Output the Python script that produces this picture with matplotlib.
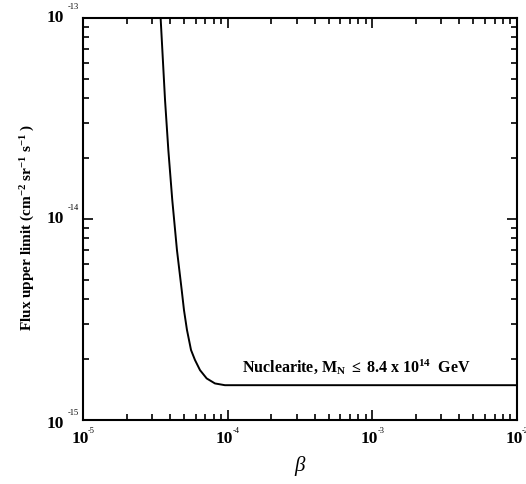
import matplotlib
matplotlib.use("Agg")
import matplotlib.pyplot as plt
from matplotlib import transforms
from matplotlib.ticker import LogLocator, NullFormatter

plt.rcParams['mathtext.fontset'] = 'custom'
plt.rcParams['mathtext.rm'] = 'Liberation Serif:bold'
plt.rcParams['mathtext.bf'] = 'Liberation Serif:bold'
plt.rcParams['mathtext.it'] = 'Liberation Serif:italic'

# data
beta = [3.44e-5, 3.69e-5, 3.89e-5, 4.14e-5, 4.46e-5, 4.81e-5, 4.99e-5, 5.23e-5,
        5.58e-5, 5.94e-5, 6.44e-5, 7.16e-5, 8.17e-5, 9.57e-5, 1.2e-4, 1e-2]
flux = [1e-13, 3.91e-14, 2.20e-14, 1.245e-14, 7.02e-15, 4.44e-15, 3.52e-15, 2.81e-15,
        2.23e-15, 1.99e-15, 1.77e-15, 1.61e-15, 1.52e-15, 1.49e-15, 1.49e-15, 1.49e-15]
xticks = [1e-5, 1e-4, 1e-3, 1e-2]
xexp = ['-5', '-4', '-3', '-2']
yticks = [1e-15, 1e-14, 1e-13]
yexp = ['-15', '-14', '-13']

fig = plt.figure(figsize=(5.26, 4.84), dpi=100)
ax = fig.add_axes([83/526, 64/484, 434/526, 402/484])
ax.set_xscale('log')
ax.set_yscale('log')
ax.set_xlim(1e-5, 1e-2)
ax.set_ylim(1e-15, 1e-13)

ax.plot(beta, flux, color='black', lw=1.4)

for s in ax.spines.values():
    s.set_linewidth(1.5)

ax.xaxis.set_major_locator(LogLocator(base=10, numticks=10))
ax.xaxis.set_minor_locator(LogLocator(base=10, subs=range(2, 10), numticks=30))
ax.yaxis.set_major_locator(LogLocator(base=10, numticks=10))
ax.yaxis.set_minor_locator(LogLocator(base=10, subs=range(2, 10), numticks=30))
ax.xaxis.set_major_formatter(NullFormatter())
ax.xaxis.set_minor_formatter(NullFormatter())
ax.yaxis.set_major_formatter(NullFormatter())
ax.yaxis.set_minor_formatter(NullFormatter())
ax.tick_params(which='both', direction='in', top=True, right=True, width=1.2)
ax.tick_params(which='major', length=7)
ax.tick_params(which='minor', length=4)

serif = 'Liberation Serif'
# x tick labels
bx = transforms.blended_transform_factory(ax.transData, ax.transAxes)
for t, e in zip(xticks, xexp):
    ax.text(t, -0.047, '10', transform=bx + transforms.ScaledTranslation(-3/100, 0, fig.dpi_scale_trans),
            ha='center', va='center', family=serif, weight='bold', fontsize=12.5)
    ax.text(t, -0.028, e, transform=bx + transforms.ScaledTranslation(5/100, 0, fig.dpi_scale_trans),
            ha='left', va='center', family=serif, fontsize=6)

# y tick labels
by = transforms.blended_transform_factory(ax.transAxes, ax.transData)
for t, e in zip(yticks, yexp):
    dy = -4 if t == 1e-15 else 0
    ax.text(-0.045, t, '10', transform=by + transforms.ScaledTranslation(0, dy/100, fig.dpi_scale_trans),
            ha='right', va='center', family=serif, weight='bold', fontsize=12.5)
    ax.text(-0.035, t, e, transform=by + transforms.ScaledTranslation(0, (dy + 11)/100, fig.dpi_scale_trans),
            ha='left', va='center', family=serif, fontsize=6)

fig.text(28/526, 1 - 227/484,
         r'Flux upper limit (cm$^{-2}$ sr$^{-1}$ s$^{-1}$ )',
         rotation=90, ha='center', va='center', family=serif, weight='bold', fontsize=11)

fig.text(300/526, 1 - 466/484, r'$\it{\beta}$', ha='center', va='center',
         family=serif, fontsize=15)

fig.text(242/526, 1 - 373/484,
         r'Nuclearite, M$_{\mathregular{N}}$ $\leq$ 8.4 x 10$^{14}$  GeV',
         ha='left', va='baseline', family=serif, weight='bold', fontsize=11.5)

fig.savefig('out.png', dpi=100, facecolor='white')
